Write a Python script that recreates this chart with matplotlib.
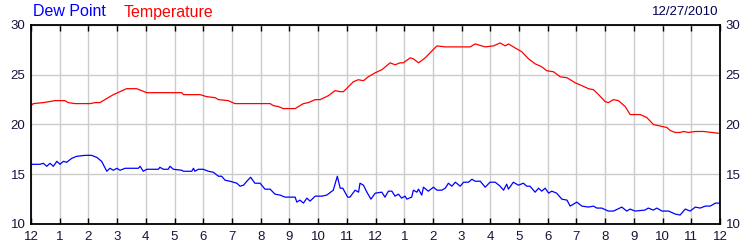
import matplotlib
matplotlib.use("Agg")
import matplotlib.pyplot as plt

plt.rcParams['font.family'] = ['Liberation Sans', 'DejaVu Sans']

# hours since midnight, temperature readings
temp_hours = [0.0, 0.08, 0.43, 0.84, 1.18, 1.3, 1.53, 2.06, 2.23, 2.4, 2.69, 2.87, 3.1, 3.33,
              3.68, 3.86, 4.03, 5.25, 5.31, 5.89, 6.12, 6.41, 6.53, 6.87, 7.1, 8.33, 8.44,
              8.62, 8.79, 9.2, 9.37, 9.49, 9.66, 9.9, 10.07, 10.36, 10.59, 10.77, 10.88,
              11.06, 11.23, 11.4, 11.58, 11.75, 11.99, 12.22, 12.51, 12.68, 12.86, 12.97,
              13.21, 13.32, 13.5, 13.73, 13.9, 14.14, 14.43, 14.66, 15.01, 15.3, 15.47,
              15.82, 16.11, 16.34, 16.52, 16.63, 16.86, 17.1, 17.33, 17.56, 17.79, 17.97,
              18.2, 18.43, 18.67, 18.95, 19.19, 19.42, 19.59, 19.77, 20.0, 20.11, 20.29,
              20.46, 20.7, 20.87, 21.22, 21.45, 21.68, 21.98, 22.15, 22.26, 22.44, 22.61,
              22.73, 22.9, 23.14, 23.43, 23.72, 24.0]
temperature = [21.9, 22.1, 22.2, 22.4, 22.4, 22.2, 22.1, 22.1, 22.2, 22.2, 22.7, 23.0, 23.3, 23.6,
               23.6, 23.4, 23.2, 23.2, 23.0, 23.0, 22.8, 22.7, 22.5, 22.4, 22.1, 22.1, 21.9,
               21.8, 21.6, 21.6, 21.9, 22.1, 22.2, 22.5, 22.5, 22.9, 23.4, 23.3, 23.3,
               23.8, 24.3, 24.5, 24.4, 24.8, 25.2, 25.5, 26.2, 26.0, 26.2, 26.2,
               26.7, 26.6, 26.2, 26.7, 27.2, 27.9, 27.8, 27.8, 27.8, 27.8, 28.1,
               27.8, 27.9, 28.2, 27.9, 28.1, 27.7, 27.3, 26.6, 26.1, 25.8, 25.4,
               25.3, 24.8, 24.7, 24.2, 23.9, 23.6, 23.5, 23.0, 22.3, 22.2, 22.5,
               22.4, 21.8, 21.0, 21.0, 20.7, 20.0, 19.8, 19.7, 19.4, 19.2, 19.2,
               19.3, 19.2, 19.3, 19.3, 19.2, 19.1]

# hours since midnight, dew point readings
dew_hours = [0.0, 0.31, 0.43, 0.55, 0.66, 0.78, 0.9, 1.01, 1.13, 1.24, 1.42, 1.59, 1.88, 2.11,
             2.29, 2.46, 2.64, 2.75, 2.87, 2.99, 3.1, 3.28, 3.74, 3.8, 3.91, 4.03, 4.44, 4.49,
             4.61, 4.78, 4.84, 4.96, 5.25, 5.31, 5.6, 5.66, 5.71, 5.83, 6.0, 6.18, 6.35,
             6.53, 6.64, 6.76, 6.93, 7.17, 7.28, 7.4, 7.52, 7.65, 7.8, 7.98, 8.15, 8.33,
             8.5, 8.68, 8.85, 9.2, 9.26, 9.37, 9.49, 9.61, 9.72, 9.9, 10.13, 10.3, 10.48,
             10.53, 10.67, 10.77, 10.86, 11.03, 11.11, 11.29, 11.41, 11.46, 11.58, 11.7,
             11.84, 11.99, 12.22, 12.33, 12.45, 12.57, 12.68, 12.8, 12.91, 13.03, 13.09,
             13.26, 13.32, 13.44, 13.5, 13.61, 13.67, 13.84, 14.02, 14.14, 14.31, 14.43,
             14.54, 14.66, 14.78, 14.95, 15.07, 15.24, 15.36, 15.47, 15.65, 15.82, 15.99,
             16.17, 16.34, 16.46, 16.57, 16.63, 16.8, 16.98, 17.15, 17.27, 17.38, 17.56,
             17.68, 17.79, 17.91, 18.03, 18.14, 18.31, 18.49, 18.67, 18.78, 18.9, 19.01,
             19.19, 19.42, 19.59, 19.71, 19.88, 20.11, 20.29, 20.58, 20.75, 20.87, 21.04,
             21.39, 21.5, 21.68, 21.8, 21.98, 22.21, 22.44, 22.61, 22.79, 22.96, 23.14,
             23.31, 23.49, 23.66, 23.84, 24.0]
dew_point = [16.0, 16.0, 16.1, 15.8, 16.1, 15.8, 16.3, 16.0, 16.3, 16.2, 16.6, 16.8, 16.9, 16.9,
             16.7, 16.3, 15.3, 15.6, 15.4, 15.6, 15.4, 15.6, 15.6, 15.8, 15.3, 15.5, 15.5, 15.7,
             15.5, 15.5, 15.8, 15.5, 15.4, 15.3, 15.3, 15.6, 15.3, 15.5, 15.5, 15.3, 15.2,
             14.8, 14.8, 14.4, 14.3, 14.1, 13.8, 13.9, 14.3, 14.7, 14.1, 14.1, 13.5, 13.5,
             13.0, 12.9, 12.7, 12.7, 12.2, 12.4, 12.1, 12.6, 12.3, 12.8, 12.8, 12.9, 13.3,
             13.4, 14.8, 13.6, 13.6, 12.7, 12.7, 13.4, 13.2, 14.1, 13.9, 13.2,
             12.5, 13.1, 13.2, 12.7, 13.3, 13.3, 12.8, 13.0, 12.6, 12.8, 12.5,
             12.7, 13.4, 13.2, 13.5, 12.9, 13.7, 13.3, 13.7, 13.4, 13.4, 13.6,
             14.1, 13.8, 14.2, 13.8, 14.2, 14.2, 14.5, 14.3, 14.3, 13.7, 14.2,
             14.2, 13.8, 13.4, 14.0, 13.5, 14.2, 13.9, 14.1, 13.8, 13.8, 13.2,
             13.6, 13.3, 13.6, 13.1, 13.3, 13.1, 12.5, 12.4, 11.8, 12.0, 12.2,
             11.8, 11.7, 11.8, 11.6, 11.6, 11.3, 11.3, 11.7, 11.3, 11.5, 11.3,
             11.4, 11.6, 11.4, 11.6, 11.3, 11.3, 11.0, 10.9, 11.5, 11.3, 11.7,
             11.6, 11.8, 11.8, 12.1, 12.1]

hour_labels = ['12'] + [str(h) for h in range(1, 12)] + ['12'] + [str(h) for h in range(1, 12)] + ['12']
y_ticks = [10, 15, 20, 25, 30]
date_text = '12/27/2010'

text_color = '#14143c'

fig = plt.figure(figsize=(7.5, 2.5), dpi=100)
ax = fig.add_axes([31 / 750, 1 - 224 / 250, 689 / 750, 199 / 250])

ax.plot(temp_hours, temperature, color='#ff0000', lw=0.9)
ax.plot(dew_hours, dew_point, color='#0000ff', lw=0.9)

ax.set_xlim(0, 24)
ax.set_ylim(10, 30)
ax.set_xticks(range(25))
ax.set_xticklabels(hour_labels)
ax.set_yticks(y_ticks)

ax.grid(True, color='#cccccc', lw=1)
ax.set_axisbelow(True)
for s in ax.spines.values():
    s.set_color('black')
    s.set_linewidth(1.3)

ax.tick_params(axis='x', direction='in', length=4, width=1, top=True, bottom=True,
               labelsize=9.5, labelcolor=text_color, pad=5)
ax.tick_params(axis='y', length=0, labelsize=9.5, labelcolor=text_color,
               left=True, right=True, labelleft=True, labelright=True, pad=4)

fig.text(33 / 750, 1 - 12 / 250, 'Dew Point', color='#0000ff', fontsize=11.5, va='center', ha='left')
fig.text(124 / 750, 1 - 12 / 250, 'Temperature', color='#ff0000', fontsize=11.5, va='center', ha='left')
fig.text(718 / 750, 1 - 12 / 250, date_text, color='#000050', fontsize=9.5, va='center', ha='right')

fig.savefig('out.png', dpi=100)
